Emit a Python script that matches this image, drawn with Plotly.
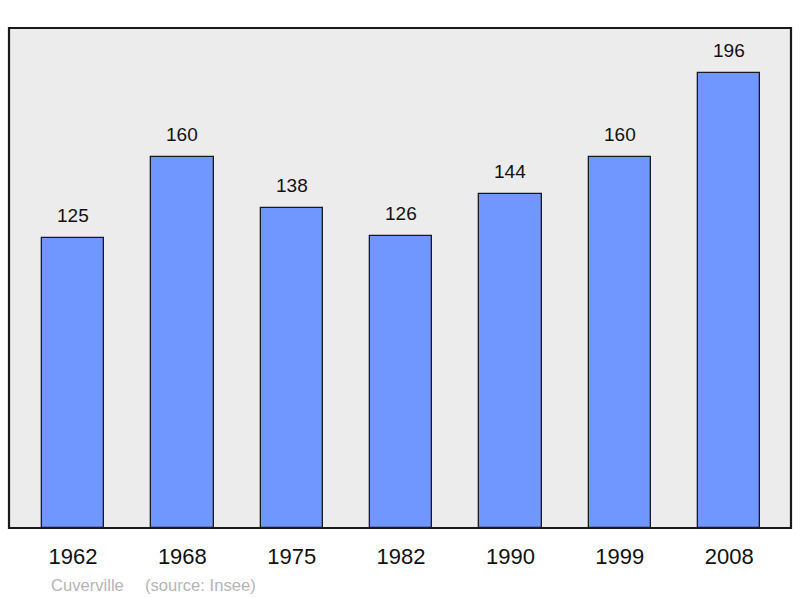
import plotly.graph_objects as go

years = ["1962", "1968", "1975", "1982", "1990", "1999", "2008"]
population = [125, 160, 138, 126, 144, 160, 196]
commune = "Cuverville"
source = "(source: Insee)"

xpos = list(range(len(years)))

fig = go.Figure()
fig.add_trace(go.Bar(
    x=xpos, y=population, width=0.57,
    marker=dict(color="#7096ff", line=dict(color="#1a1a1a", width=1.3)),
    hoverinfo="skip",
))

for xi, v in zip(xpos, population):
    fig.add_annotation(x=xi, y=v, text=str(v), showarrow=False,
                       yanchor="bottom", yshift=10,
                       font=dict(family="Liberation Sans, Arial", size=19, color="#111111"))

foot_font = dict(family="Liberation Sans, Arial", size=16.6, color="#b5b5b5")
fig.add_annotation(xref="paper", yref="paper", x=(49 - 9) / 782, y=-57 / 500, xanchor="left",
                   yanchor="middle", showarrow=False, text=commune, font=foot_font)
fig.add_annotation(xref="paper", yref="paper", x=(143 - 9) / 782, y=-57 / 500, xanchor="left",
                   yanchor="middle", showarrow=False, text=source, font=foot_font)

# frame
fig.add_shape(type="rect", xref="paper", yref="paper", x0=0, x1=1, y0=0, y1=1,
              line=dict(color="#1a1a1a", width=2.2), layer="above")

fig.update_layout(
    width=800, height=598,
    margin=dict(l=9, r=9, t=28, b=70),
    paper_bgcolor="white", plot_bgcolor="#ececec",
    showlegend=False,
    bargap=0,
    xaxis=dict(range=[-0.585, 6.565], tickmode="array", tickvals=xpos, ticktext=years,
               showgrid=False, zeroline=False, ticks="", ticklabelstandoff=13,
               tickfont=dict(family="Liberation Sans, Arial", size=22, color="#111111")),
    yaxis=dict(range=[0, 215.4], showgrid=False, zeroline=False, showticklabels=False,
               ticks=""),
)

fig.write_html("out.html", config={"displayModeBar": False},
               post_script="document.body.style.margin='0';document.body.style.overflow='hidden';")
